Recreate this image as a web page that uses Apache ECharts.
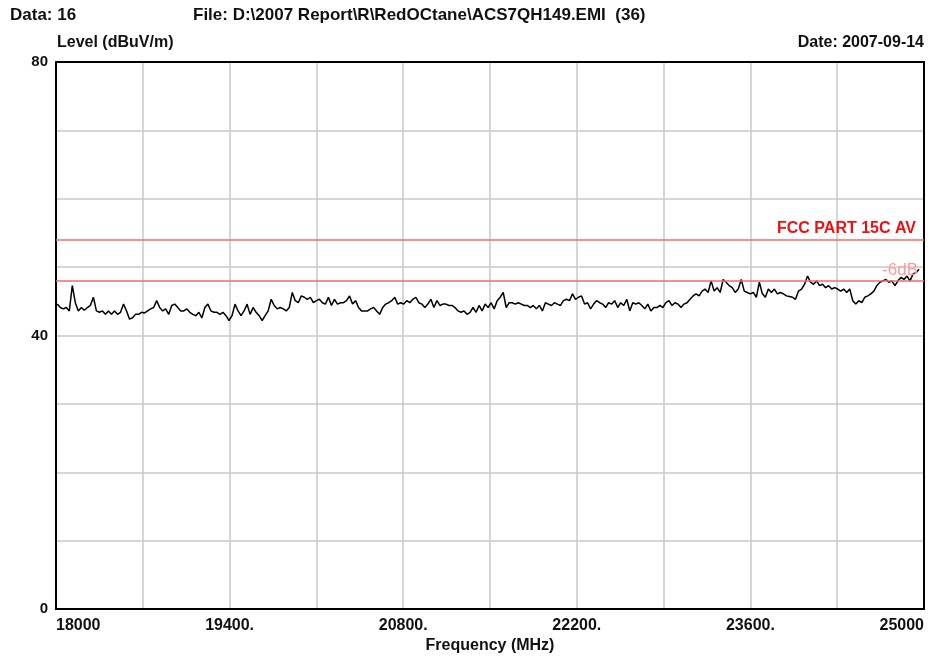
<!DOCTYPE html>
<html>
<head>
<meta charset="utf-8">
<script src="https://cdn.jsdelivr.net/npm/echarts@6/dist/echarts.min.js"></script>
<style>
  html, body { margin: 0; padding: 0; background: #fff; }
  #chart { width: 939px; height: 659px; }
</style>
</head>
<body>
<div id="chart"></div>
<script>
// sweep range of the trace (MHz)
var sweepStart = 18010;
var sweepStop = 24960;

// level readings (dBuV/m) left to right
var levels1 = [44.6, 44.1, 43.9, 44.1, 43.6, 47.3, 44.8, 43.6, 44.1, 43.7, 44.1, 44.4, 45.6, 43.6, 43.4, 43.6, 43.1, 43.6, 43.1, 43.6, 43.1, 43.4, 44.6, 43.6, 42.4, 42.6, 43.1, 43.1, 43.4, 43.3, 43.6, 43.9, 44.1, 45.1, 44.1, 43.6, 43.9, 43.1, 44.4, 44.6, 44.1, 43.6, 43.6, 43.9, 43.4, 43.1, 42.9, 43.4, 42.6, 44.1, 44.6];
var levels2 = [43.6, 43.4, 43.4, 43.1, 43.4, 42.9, 42.2, 42.9, 44.6, 43.6, 42.9, 43.6, 44.6, 43.1, 44.1, 43.4, 42.9, 42.2, 42.9, 43.6, 45.3, 44.4, 43.9, 44.1, 43.9, 43.6, 44.1, 46.3, 45.1, 44.8, 45.8, 45.6, 45.3, 45.6, 44.8, 45.1, 45.3, 44.8, 44.6, 45.6, 44.4, 45.3, 44.6, 44.8, 44.8, 45.1, 45.8, 44.6, 45.1, 44.1, 43.6, 43.6];
var levels3 = [43.6, 43.9, 44.1, 43.6, 43.1, 44.1, 44.6, 44.8, 45.1, 45.6, 44.6, 44.8, 44.6, 45.1, 44.8, 45.3, 45.6, 44.8, 44.6, 44.1, 44.6, 45.3, 44.1, 45.1, 44.4, 44.6, 44.6, 44.4, 44.4, 44.1, 43.6, 43.4, 43.6, 43.1, 43.4, 44.1, 43.4, 44.4, 43.6, 44.6, 44.1, 44.8, 43.9, 45.1, 45.6, 46.3, 44.1];
var levels4 = [44.8, 44.8, 44.6, 44.8, 44.6, 44.4, 44.4, 44.1, 44.4, 43.9, 44.4, 43.6, 44.8, 44.6, 44.4, 44.8, 44.6, 44.4, 45.1, 45.3, 45.1, 46.1, 45.3, 45.6, 45.8, 44.6, 44.8, 43.9, 44.6, 45.1, 44.8, 44.6, 44.1, 44.8, 44.6, 45.1, 44.1, 44.8, 44.4, 45.3, 43.6, 44.8, 44.6, 44.8, 44.4, 43.9];
var levels5 = [44.6, 43.6, 44.1, 44.1, 44.4, 44.1, 44.8, 45.1, 44.4, 44.8, 44.6, 44.1, 44.6, 44.8, 45.3, 45.8, 46.1, 45.8, 46.5, 46.8, 46.3, 48.0, 46.5, 47.0, 46.3, 48.2, 47.8, 47.3, 47.0, 46.3, 46.8, 48.2, 46.5, 46.3, 46.1, 46.3, 45.6, 47.8, 46.1, 45.6, 46.8, 46.3, 46.8, 46.1, 46.3, 46.1];
var levels6 = [45.8, 45.7, 45.6, 45.3, 46.5, 46.8, 47.5, 48.7, 47.8, 47.5, 48.0, 47.3, 47.5, 47.0, 47.3, 46.8, 47.0, 46.8, 46.5, 46.8, 46.3, 46.8, 45.1, 44.6, 45.1, 44.8, 45.6, 45.8, 46.1, 46.5, 47.3, 47.8, 48.0, 48.2, 47.8, 48.0, 47.3, 48.0, 48.5, 48.2, 48.7, 48.0, 49.0, 49.2, 49.7];

// limit lines
var limitNames = ['FCC PART 15C AV', '-6dB'];
var limitValues = [54, 48];

// x tick labels shown
var xTickLabels = { 18000: '18000', 19400: '19400.', 20800: '20800.', 22200: '22200.', 23600: '23600.', 25000: '25000' };
var yTickLabels = { 0: '0', 40: '40', 80: '80' };

var levels = [].concat(levels1, levels2, levels3, levels4, levels5, levels6);
var trace = levels.map(function (v, i) {
  return [sweepStart + i * (sweepStop - sweepStart) / (levels.length - 1), v];
});

var font = '"Liberation Sans", Arial, sans-serif';
var frameLine = { show: true, onZero: false, lineStyle: { color: '#000', width: 2 } };

var chart = echarts.init(document.getElementById('chart'));
chart.setOption({
  backgroundColor: '#ffffff',
  animation: false,
  grid: { left: 56, right: 15, top: 62, bottom: 49 },
  graphic: [
    { type: 'text', left: 10, top: 7, style: { text: 'Data: 16', font: 'bold 17px ' + font, fill: '#111' } },
    { type: 'text', left: 193, top: 7, style: { text: 'File: D:\\2007 Report\\R\\RedOCtane\\ACS7QH149.EMI  (36)', font: 'bold 17px ' + font, fill: '#111' } },
    { type: 'text', left: 57, top: 35, style: { text: 'Level (dBuV/m)', font: 'bold 16px ' + font, fill: '#111' } },
    { type: 'text', right: 15, top: 35, style: { text: 'Date: 2007-09-14', font: 'bold 16px ' + font, fill: '#111' } }
  ],
  xAxis: [{
    type: 'value',
    min: 18000, max: 25000, interval: 700,
    name: 'Frequency (MHz)',
    nameLocation: 'middle',
    nameGap: 28,
    nameTextStyle: { fontFamily: font, fontWeight: 'bold', fontSize: 16, color: '#111' },
    axisLine: frameLine,
    axisTick: { show: false },
    axisLabel: {
      margin: 8,
      fontFamily: font, fontWeight: 'bold', fontSize: 16, color: '#111',
      alignMinLabel: 'left', alignMaxLabel: 'right',
      formatter: function (v) { return xTickLabels[v] || ''; }
    },
    splitLine: { show: true, lineStyle: { color: '#c8c8c8', width: 1.5 } }
  }, {
    type: 'value', position: 'top',
    min: 18000, max: 25000, interval: 700,
    axisLine: frameLine, axisTick: { show: false }, axisLabel: { show: false }, splitLine: { show: false }
  }],
  yAxis: [{
    type: 'value',
    min: 0, max: 80, interval: 10,
    axisLine: frameLine,
    axisTick: { show: false },
    axisLabel: {
      margin: 8,
      fontFamily: font, fontWeight: 'bold', fontSize: 15, color: '#111',
      formatter: function (v) { return yTickLabels[v] || ''; }
    },
    splitLine: { show: true, lineStyle: { color: '#c8c8c8', width: 1.5 } }
  }, {
    type: 'value', position: 'right',
    min: 0, max: 80, interval: 10,
    axisLine: frameLine, axisTick: { show: false }, axisLabel: { show: false }, splitLine: { show: false }
  }],
  series: [{
    type: 'line',
    data: trace,
    showSymbol: false,
    lineStyle: { color: '#000', width: 1.5 },
    markLine: {
      silent: true,
      symbol: 'none',
      animation: false,
      data: [
        { yAxis: limitValues[0], name: limitNames[0],
          lineStyle: { color: '#f26b6b', width: 1.5, type: 'solid' },
          label: { position: 'insideEndTop', formatter: limitNames[0], color: '#f01010', fontFamily: font, fontWeight: 'bold', fontSize: 16, distance: [8, 3] } },
        { yAxis: limitValues[1], name: limitNames[1],
          lineStyle: { color: '#f26b6b', width: 1.5, type: 'solid' },
          label: { position: 'insideEndTop', formatter: limitNames[1], color: '#ff9a9a', fontFamily: font, fontSize: 17, distance: [6, 2] } }
      ]
    }
  }]
});
</script>
</body>
</html>
